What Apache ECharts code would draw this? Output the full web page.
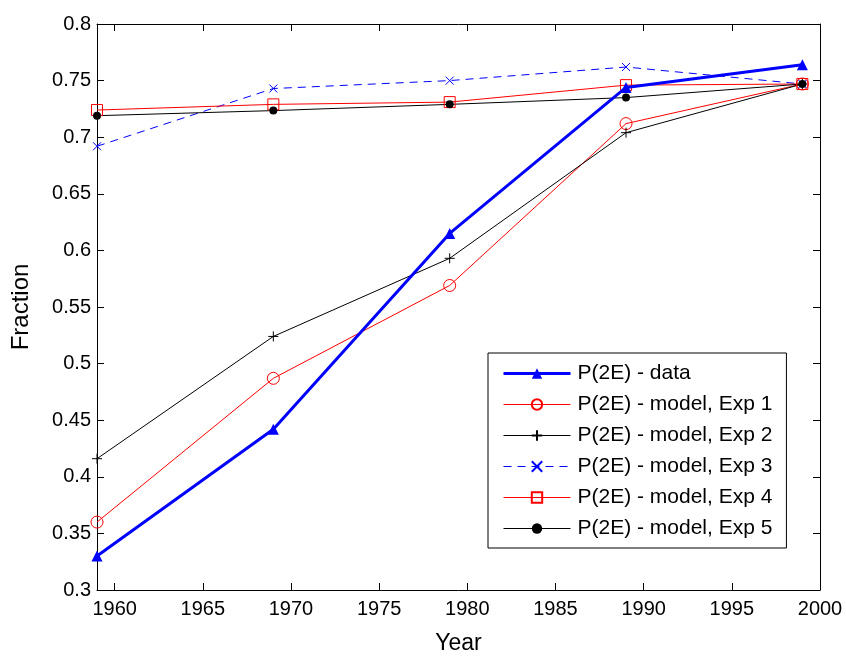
<!DOCTYPE html>
<html><head><meta charset="utf-8">
<script src="https://cdn.jsdelivr.net/npm/echarts@6/dist/echarts.min.js"></script>
<style>html,body{margin:0;padding:0;background:#fff}#c{width:846px;height:657px}</style>
</head><body><div id="c"></div>
<script>
const years = [1959, 1969, 1979, 1989, 1999];
const xTicks = [1960, 1965, 1970, 1975, 1980, 1985, 1990, 1995, 2000];
const yTicks = [0.3, 0.35, 0.4, 0.45, 0.5, 0.55, 0.6, 0.65, 0.7, 0.75, 0.8];
const seriesNames = ['P(2E) - data', 'P(2E) - model, Exp 1', 'P(2E) - model, Exp 2', 'P(2E) - model, Exp 3', 'P(2E) - model, Exp 4', 'P(2E) - model, Exp 5'];
const dataP2E = [0.330, 0.442, 0.615, 0.744, 0.764];
const exp1 = [0.360, 0.487, 0.569, 0.712, 0.747];
const exp2 = [0.416, 0.524, 0.593, 0.704, 0.747];
const exp3 = [0.692, 0.743, 0.750, 0.762, 0.747];
const exp4 = [0.724, 0.729, 0.731, 0.746, 0.747];
const exp5 = [0.719, 0.7235, 0.729, 0.735, 0.747];

const pair = arr => years.map((y, i) => [y, arr[i]]);
const FONT = 'Liberation Sans';
const plus = 'path://M0,5L10,5M5,0L5,10';
const cross = 'path://M0,0L10,10M10,0L0,10';

const chart = echarts.init(document.getElementById('c'));
const yFmt = v => String(Math.round(v * 100) / 100);
const xFmt = v => String(v);
chart.setOption({
  animation: false,
  backgroundColor: '#fff',
  textStyle: { fontFamily: FONT },
  grid: { left: 97, right: 26, top: 24, bottom: 67, show: false, containLabel: false, outerBoundsMode: 'none' },
  xAxis: [{
    type: 'value', min: 1959, max: 2000, position: 'bottom',
    name: 'Year', nameLocation: 'middle', nameGap: 42,
    nameTextStyle: { fontSize: 23, color: '#000', fontFamily: FONT },
    axisLine: { show: true, onZero: false, lineStyle: { color: '#000', width: 1 } },
    axisTick: { show: true, inside: true, length: 7, customValues: xTicks, lineStyle: { color: '#000' } },
    axisLabel: { show: true, customValues: xTicks, fontSize: 20, color: '#000', margin: 9, fontFamily: FONT, formatter: xFmt },
    splitLine: { show: false }
  }, {
    type: 'value', min: 1959, max: 2000, position: 'top',
    axisLine: { show: true, onZero: false, lineStyle: { color: '#000', width: 1 } },
    axisTick: { show: true, inside: true, length: 7, customValues: xTicks, lineStyle: { color: '#000' } },
    axisLabel: { show: false }, splitLine: { show: false }
  }],
  yAxis: [{
    type: 'value', min: 0.3, max: 0.8, interval: 0.05, position: 'left',
    name: 'Fraction', nameLocation: 'middle', nameGap: 64, nameRotate: 90,
    nameTextStyle: { fontSize: 24, color: '#000', fontFamily: FONT },
    axisLine: { show: true, onZero: false, lineStyle: { color: '#000', width: 1 } },
    axisTick: { show: true, inside: true, length: 7, lineStyle: { color: '#000' } },
    axisLabel: { fontSize: 20, color: '#000', margin: 6, fontFamily: FONT, formatter: yFmt },
    splitLine: { show: false }
  }, {
    type: 'value', min: 0.3, max: 0.8, interval: 0.05, position: 'right',
    axisLine: { show: true, onZero: false, lineStyle: { color: '#000', width: 1 } },
    axisTick: { show: true, inside: true, length: 7, lineStyle: { color: '#000' } },
    axisLabel: { show: false }, splitLine: { show: false }
  }],
  legend: {
    orient: 'vertical', left: 488, top: 353,
    padding: [10, 14, 9, 14], itemGap: 10, itemWidth: 67, itemHeight: 13,
    backgroundColor: '#fff', borderColor: '#000', borderWidth: 1, borderRadius: 0,
    lineStyle: { width: 'inherit' },
    textStyle: { fontSize: 21, lineHeight: 21, color: '#000', fontFamily: FONT, padding: [0, 0, 0, 2] },
    data: seriesNames
  },
  series: [
    { name: seriesNames[0], type: 'line', data: pair(dataP2E), z: 10,
      symbol: 'triangle', symbolSize: 11,
      itemStyle: { color: '#0000ff' }, lineStyle: { color: '#0000ff', width: 3 } },
    { name: seriesNames[1], type: 'line', data: pair(exp1),
      symbol: 'circle', symbolSize: 12,
      itemStyle: { color: 'rgba(0,0,0,0)', borderColor: '#ff0000', borderWidth: 1 },
      lineStyle: { color: '#ff0000', width: 1 } },
    { name: seriesNames[2], type: 'line', data: pair(exp2),
      symbol: plus, symbolSize: 10,
      itemStyle: { color: '#000', borderColor: '#000', borderWidth: 1 },
      lineStyle: { color: '#000', width: 1 } },
    { name: seriesNames[3], type: 'line', data: pair(exp3),
      symbol: cross, symbolSize: 8,
      itemStyle: { color: '#0000ff', borderColor: '#0000ff', borderWidth: 1 },
      lineStyle: { color: '#0000ff', width: 1, type: [8, 6] } },
    { name: seriesNames[4], type: 'line', data: pair(exp4),
      symbol: 'rect', symbolSize: 11,
      itemStyle: { color: 'rgba(0,0,0,0)', borderColor: '#ff0000', borderWidth: 1 },
      lineStyle: { color: '#ff0000', width: 1 } },
    { name: seriesNames[5], type: 'line', data: pair(exp5),
      symbol: 'circle', symbolSize: 8,
      itemStyle: { color: '#000' }, lineStyle: { color: '#000', width: 1 } }
  ]
});
</script></body></html>
